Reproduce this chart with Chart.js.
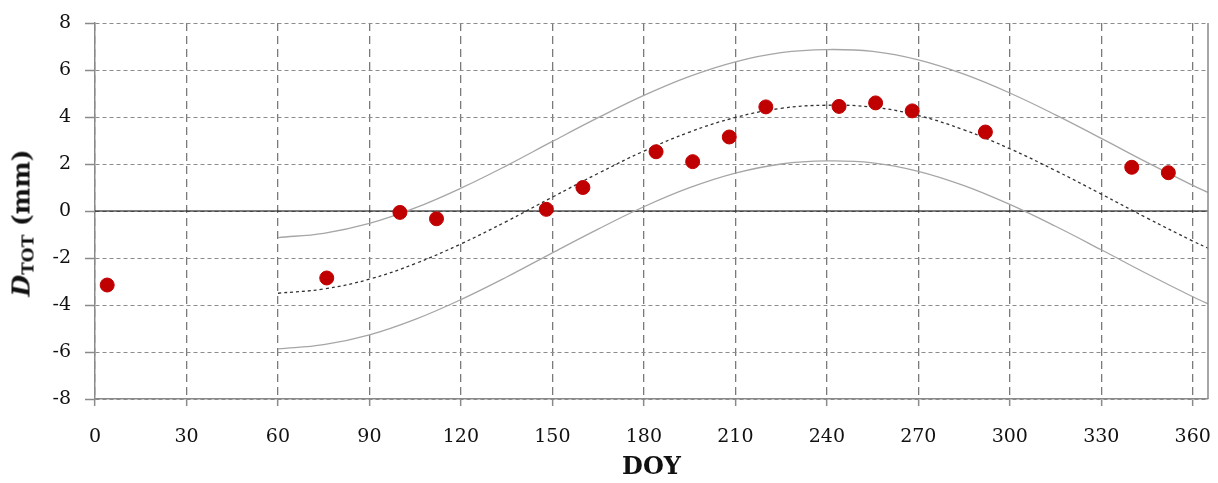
<!DOCTYPE html>
<html>
<head>
<meta charset="utf-8">
<script src="https://cdn.jsdelivr.net/npm/chart.js@4.4.0/dist/chart.umd.min.js"></script>
<style>
  html, body { margin: 0; padding: 0; background: #fff; }
  #wrap { position: relative; width: 1218px; height: 483px; }
  #ytitle {
    position: absolute; left: 22px; top: 223px;
    transform: translate(-50%, -50%) rotate(-90deg);
    font-family: "DejaVu Serif", serif; font-weight: bold; font-size: 25px;
    white-space: nowrap; color: #111;
  }
  #ytitle i { font-style: italic; }
  #ytitle sub { font-size: 17px; vertical-align: -4px; }
</style>
</head>
<body>
<div id="wrap">
  <canvas id="c" width="1218" height="483"></canvas>
  <div id="ytitle"><i>D</i><sub>TOT</sub> (mm)</div>
</div>
<script>
// Observed points
const obsDoy = [4, 76, 100, 112, 148, 160, 184, 196, 208, 220, 244, 256, 268, 292, 340, 352];
const obsD   = [-3.15, -2.85, -0.06, -0.33, 0.07, 1.0, 2.52, 2.1, 3.15, 4.43, 4.45, 4.6, 4.26, 3.36, 1.86, 1.63];

// Curves
const curveDoy = [60, 75, 90, 105, 120, 135, 150, 165, 180, 195, 210, 225, 240, 255, 270, 285, 300, 315, 330, 345, 360, 365];
const midD   = [-3.50, -3.32, -2.90, -2.24, -1.40, -0.44, 0.59, 1.60, 2.55, 3.36, 3.98, 4.37, 4.50, 4.42, 4.06, 3.45, 2.65, 1.72, 0.72, -0.30, -1.28, -1.58];
const upperD = [-1.13, -0.95, -0.53, 0.13, 0.97, 1.93, 2.96, 3.97, 4.92, 5.73, 6.35, 6.74, 6.87, 6.79, 6.43, 5.82, 5.02, 4.09, 3.09, 2.07, 1.09, 0.79];
const lowerD = [-5.87, -5.69, -5.27, -4.61, -3.77, -2.81, -1.78, -0.77, 0.18, 0.99, 1.61, 2.00, 2.13, 2.05, 1.69, 1.08, 0.28, -0.65, -1.65, -2.67, -3.65, -3.95];

// Axes
const xMin = 0, xMax = 365, xStep = 30;
const yMin = -8, yMax = 8, yStep = 2;
const zeroLineX = [xMin, xMax];
const zeroLineY = [0, 0];

const pts = (xs, ys) => xs.map((x, i) => ({x: x, y: ys[i]}));

const rightBorder = {
  id: 'rightBorder',
  afterDraw(chart) {
    const {ctx, chartArea: a} = chart;
    ctx.save();
    ctx.strokeStyle = '#8a8a8a';
    ctx.lineWidth = 1.5;
    ctx.beginPath();
    ctx.moveTo(a.right, a.top);
    ctx.lineTo(a.right, a.bottom);
    ctx.stroke();
    ctx.restore();
  }
};

const FONT = '"DejaVu Serif", serif';

new Chart(document.getElementById('c'), {
  type: 'scatter',
  data: {
    datasets: [
      { data: pts(zeroLineX, zeroLineY), showLine: true, borderColor: '#000', borderWidth: 1.2, pointRadius: 0, order: 5 },
      { data: pts(curveDoy, upperD), showLine: true, borderColor: '#a6a6a6', borderWidth: 1.3, pointRadius: 0, tension: 0.4, order: 4 },
      { data: pts(curveDoy, lowerD), showLine: true, borderColor: '#a6a6a6', borderWidth: 1.3, pointRadius: 0, tension: 0.4, order: 4 },
      { data: pts(curveDoy, midD), showLine: true, borderColor: '#333', borderWidth: 1.3, borderDash: [3, 3], pointRadius: 0, tension: 0.4, order: 3 },
      { data: pts(obsDoy, obsD), showLine: false, backgroundColor: '#c00000', borderColor: '#c00000', borderWidth: 1, pointRadius: 7, pointHoverRadius: 7, order: 1 }
    ]
  },
  options: {
    responsive: false,
    animation: false,
    events: [],
    layout: { padding: { top: 23, right: 10, left: 0, bottom: 0 } },
    plugins: { legend: { display: false }, tooltip: { enabled: false } },
    scales: {
      x: {
        type: 'linear', min: xMin, max: xMax,
        ticks: { stepSize: xStep, includeBounds: false, color: '#111', font: { family: FONT, size: 19 }, padding: 20, maxRotation: 0 },
        grid: { color: '#7a7a7a', lineWidth: 1.3, tickLength: 7, tickColor: '#8a8a8a', tickWidth: 1.5 },
        border: { display: true, color: '#8a8a8a', width: 1.5, dash: [8, 5] },
        title: { display: true, text: 'DOY', color: '#111', font: { family: FONT, size: 24, weight: 'bold' }, padding: { top: 0, bottom: 1 } },
        afterFit(s) { s.height = 84; s.paddingLeft = 0; s.paddingRight = 0; }
      },
      y: {
        type: 'linear', min: yMin, max: yMax,
        ticks: { stepSize: yStep, color: '#111', font: { family: FONT, size: 19 }, padding: 14 },
        grid: { color: '#8c8c8c', lineWidth: 1, tickLength: 10, tickColor: '#8a8a8a', tickWidth: 1.5 },
        border: { display: true, color: '#8a8a8a', width: 1.5, dash: [4, 3] },
        afterFit(s) { s.width = 95; s.paddingTop = 0; s.paddingBottom = 0; }
      }
    }
  },
  plugins: [rightBorder]
});
</script>
</body>
</html>
